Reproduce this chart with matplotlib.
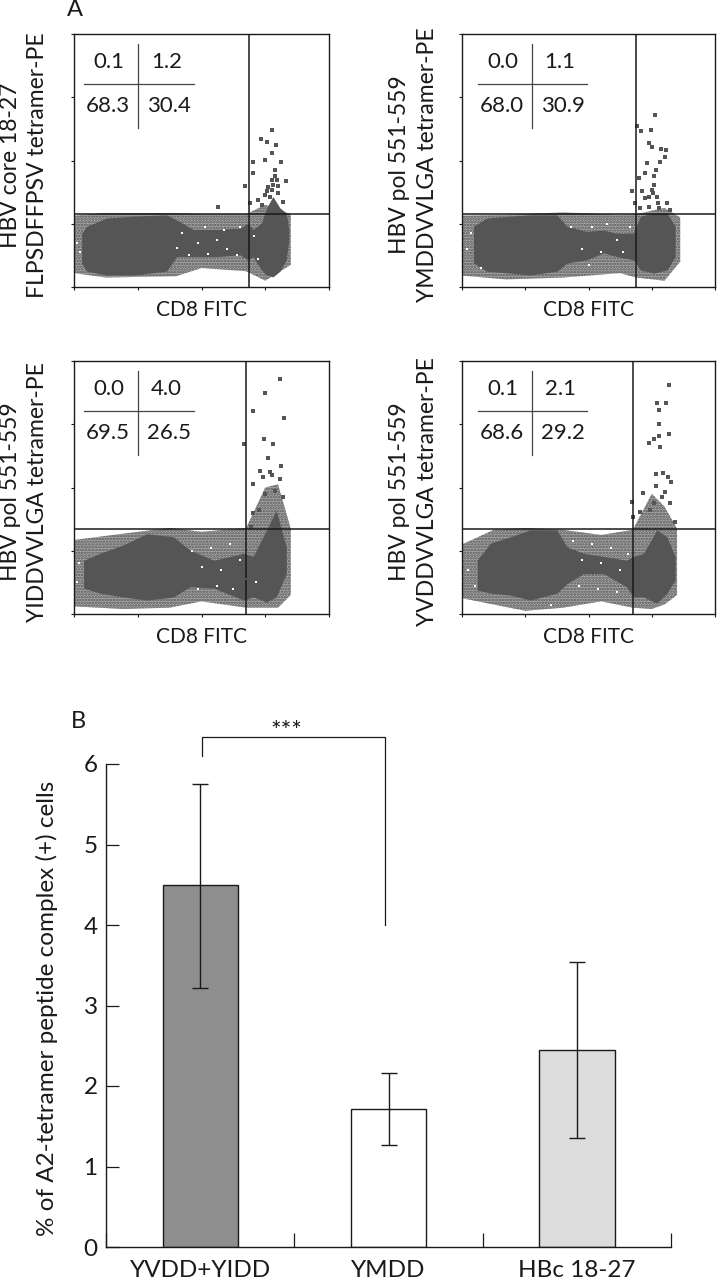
import matplotlib
matplotlib.use("Agg")
from matplotlib import pyplot as plt

plt.rcParams['font.family'] = ['Lato', 'DejaVu Sans']
plt.rcParams['hatch.linewidth'] = 1.2

W, H = 718, 1280
DOT = '#555555'
INK = '#1a1a1a'

# flow panels, all in decades (0-4) on both axes
p1_x = [0.12, 0.20, 0.51, 0.93, 1.45, 1.61, 1.87, 2.23, 2.60, 2.73, 2.81, 2.94, 3.02, 3.12, 3.23, 3.33, 3.37]
p1_top = [0.85, 0.96, 1.09, 1.12, 1.14, 1.06, 0.91, 0.91, 0.93, 1.01, 0.91, 1.01, 1.25, 1.43, 1.25, 1.17, 0.91]
p1_bot = [0.38, 0.25, 0.19, 0.19, 0.25, 0.48, 0.48, 0.48, 0.51, 0.43, 0.48, 0.27, 0.19, 0.16, 0.25, 0.43, 0.75]
p1_fx = [0.0, 0.5, 1.6, 2.0, 2.7, 3.0, 3.4]
p1_ft = [1.13, 1.17, 1.17, 1.15, 1.15, 1.30, 1.15]
p1_fb = [0.22, 0.15, 0.17, 0.30, 0.25, 0.10, 0.35]
p1_tx = [3.10, 2.93, 3.02, 3.17, 3.11, 2.81, 3.00, 3.24, 2.80, 3.15, 3.10, 3.18, 3.33, 2.69, 3.02, 3.10, 3.20, 2.76, 2.26, 2.89, 3.28, 3.05, 3.12, 3.20, 3.00, 2.95, 3.07, 3.15]
p1_ty = [2.48, 2.34, 2.30, 2.25, 2.12, 1.98, 2.01, 1.98, 1.80, 1.85, 1.69, 1.69, 1.67, 1.60, 1.51, 1.54, 1.48, 1.33, 1.27, 1.38, 1.35, 1.58, 1.62, 1.60, 1.45, 1.30, 1.42, 1.75]
p1_hx = [1.62, 1.80, 1.95, 2.10, 2.25, 2.40, 2.55, 1.70, 2.05, 2.35, 2.60, 2.83, 2.88, 0.05, 0.10]
p1_hy = [0.62, 0.50, 0.70, 0.52, 0.75, 0.60, 0.50, 0.85, 0.95, 0.90, 0.95, 0.80, 0.45, 0.70, 0.55]

p2_x = [0.18, 0.39, 0.76, 1.08, 1.50, 1.66, 1.97, 2.24, 2.45, 2.71, 2.82, 3.03, 3.24, 3.37]
p2_top = [0.96, 1.09, 1.12, 1.14, 1.14, 0.96, 0.88, 0.90, 0.85, 0.85, 1.12, 1.17, 1.17, 0.96]
p2_bot = [0.38, 0.25, 0.22, 0.19, 0.25, 0.38, 0.43, 0.54, 0.48, 0.43, 0.27, 0.22, 0.27, 0.48]
p2_fx = [0.0, 0.7, 1.6, 2.5, 2.75, 3.2, 3.45]
p2_ft = [1.13, 1.14, 1.18, 1.14, 1.15, 1.25, 1.10]
p2_fb = [0.18, 0.12, 0.15, 0.22, 0.15, 0.10, 0.40]
p2_tx = [3.05, 2.76, 2.99, 2.83, 2.95, 3.00, 3.15, 3.23, 3.21, 2.92, 3.13, 2.89, 3.03, 2.80, 3.03, 2.68, 2.84, 3.00, 3.08, 2.74, 2.89, 3.10, 3.24, 2.95, 2.82, 3.29, 3.06, 2.95, 3.02, 3.12]
p2_ty = [2.72, 2.55, 2.49, 2.46, 2.28, 2.22, 2.18, 2.17, 2.06, 1.96, 1.98, 1.80, 1.75, 1.72, 1.62, 1.52, 1.51, 1.54, 1.43, 1.33, 1.41, 1.33, 1.33, 1.27, 1.25, 1.22, 1.85, 1.42, 1.48, 1.25]
p2_hx = [1.72, 1.90, 2.05, 2.20, 2.30, 2.45, 2.55, 2.65, 0.08, 0.15, 0.30, 2.00]
p2_hy = [0.95, 0.60, 0.95, 0.55, 1.00, 0.75, 0.55, 0.95, 0.60, 0.85, 0.30, 0.35]

p3_x = [0.15, 0.41, 0.77, 1.14, 1.56, 1.82, 2.19, 2.66, 2.81, 3.02, 3.17, 3.33]
p3_top = [0.85, 0.96, 1.09, 1.27, 1.22, 1.01, 0.85, 0.96, 0.91, 1.33, 1.64, 1.06]
p3_bot = [0.41, 0.33, 0.27, 0.22, 0.27, 0.43, 0.41, 0.22, 0.27, 0.19, 0.27, 0.64]
p3_fx = [0.0, 0.77, 1.5, 2.0, 2.7, 3.0, 3.2, 3.4]
p3_ft = [1.17, 1.27, 1.36, 1.30, 1.36, 2.00, 2.05, 1.35]
p3_fb = [0.12, 0.08, 0.10, 0.20, 0.10, 0.10, 0.10, 0.30]
p3_tx = [3.23, 3.00, 2.80, 3.29, 2.67, 2.98, 3.12, 3.04, 2.91, 3.07, 3.10, 3.25, 2.81, 2.97, 3.23, 2.81, 2.78, 3.00, 3.15, 2.90, 3.28]
p3_ty = [3.71, 3.49, 3.21, 3.10, 2.68, 2.76, 2.68, 2.47, 2.26, 2.25, 2.19, 2.34, 2.06, 2.17, 2.14, 1.59, 1.38, 1.90, 1.95, 1.65, 1.85]
p3_hx = [1.85, 2.00, 2.15, 2.30, 2.45, 2.60, 2.70, 1.95, 2.25, 2.50, 2.85, 0.08, 0.05]
p3_hy = [1.00, 0.75, 1.05, 0.70, 1.10, 0.85, 0.55, 0.40, 0.45, 0.40, 0.50, 0.80, 0.50]

p4_x = [0.24, 0.45, 0.76, 1.08, 1.50, 1.66, 1.92, 2.24, 2.60, 2.71, 2.87, 3.08, 3.24, 3.37]
p4_top = [0.85, 1.12, 1.22, 1.33, 1.33, 1.06, 0.96, 0.91, 0.85, 0.91, 0.96, 1.33, 1.22, 0.91]
p4_bot = [0.38, 0.33, 0.30, 0.22, 0.33, 0.48, 0.64, 0.64, 0.43, 0.27, 0.27, 0.17, 0.33, 0.54]
p4_fx = [0.0, 0.5, 1.0, 1.6, 2.2, 2.7, 3.0, 3.2, 3.4]
p4_ft = [1.10, 1.33, 1.36, 1.33, 1.25, 1.33, 1.90, 1.70, 1.35]
p4_fb = [0.25, 0.15, 0.05, 0.10, 0.20, 0.10, 0.08, 0.15, 0.30]
p4_tx = [3.28, 3.09, 3.23, 3.11, 3.11, 3.28, 3.11, 3.03, 2.95, 3.13, 3.06, 3.18, 3.26, 3.31, 3.07, 2.86, 3.21, 3.16, 2.68, 3.03, 3.29, 2.82, 2.97, 3.37, 2.71]
p4_ty = [3.62, 3.34, 3.33, 3.22, 3.00, 2.84, 2.81, 2.76, 2.71, 2.64, 2.21, 2.23, 2.17, 2.09, 2.02, 1.92, 1.93, 1.85, 1.77, 1.75, 1.75, 1.62, 1.64, 1.46, 1.54]
p4_hx = [1.75, 1.90, 2.05, 2.20, 2.35, 2.50, 2.62, 1.85, 2.15, 2.45, 0.10, 0.20, 1.40]
p4_hy = [1.15, 0.85, 1.10, 0.80, 1.05, 0.70, 0.95, 0.45, 0.40, 0.35, 0.70, 0.45, 0.15]

# quadrant percentages: UL, UR, LL, LR
p1_pct = ['0.1', '1.2', '68.3', '30.4']
p2_pct = ['0.0', '1.1', '68.0', '30.9']
p3_pct = ['0.0', '4.0', '69.5', '26.5']
p4_pct = ['0.1', '2.1', '68.6', '29.2']

p1_label = ['HBV core 18-27', 'FLPSDFFPSV tetramer-PE']
p2_label = ['HBV pol 551-559', 'YMDDVVLGA tetramer-PE']
p3_label = ['HBV pol 551-559', 'YIDDVVLGA tetramer-PE']
p4_label = ['HBV pol 551-559', 'YVDDVVLGA tetramer-PE']

# bar chart
bar_names = ['YVDD+YIDD', 'YMDD', 'HBc 18-27']
bar_means = [4.50, 1.71, 2.45]
bar_low = [3.22, 1.27, 1.36]
bar_high = [5.75, 2.16, 3.54]
bar_colors = ['#8e8e8e', '#ffffff', '#dcdcdc']

fig = plt.figure(figsize=(W / 100, H / 100), dpi=100)


def px_axes(left, top, right, bottom):
    return fig.add_axes([left / W, 1 - bottom / H, (right - left) / W, (bottom - top) / H])


def flow_panel(box, gx, gy, cross_x, x, top, bot, fx, ft, fb, tx, ty, hx, hy, pct, label, label_x):
    ax = px_axes(*box)
    ax.fill_between(fx, fb, ft, facecolor='#a8a8a8', edgecolor=DOT, hatch='......', linewidth=0)
    ax.fill_between(x, bot, top, color=DOT, linewidth=0)
    ax.scatter(hx, hy, s=4, marker='s', color='white', linewidths=0)
    ax.scatter(tx, ty, s=6, marker='s', color=DOT, linewidths=0)
    ax.axvline(gx, color=INK, lw=1.1)
    ax.axhline(gy, color=INK, lw=1.1)
    ax.set_xlim(0, 4)
    ax.set_ylim(0, 4)
    ax.set_xticks([0, 1, 2, 3, 4])
    ax.set_yticks([0, 1, 2, 3, 4])
    ax.tick_params(length=2, width=0.8, labelbottom=False, labelleft=False, color=INK)
    for s in ax.spines.values():
        s.set_linewidth(1.0)
        s.set_color(INK)
    # little cross with the percentages
    ax.plot([cross_x, cross_x], [2.52, 3.84], color='#444444', lw=0.9)
    ax.plot([cross_x - 0.85, cross_x + 0.87], [3.21, 3.21], color='#444444', lw=0.9)
    for (px, py), s in zip([(cross_x - 0.47, 3.55), (cross_x + 0.44, 3.55),
                            (cross_x - 0.48, 2.86), (cross_x + 0.48, 2.86)], pct):
        ax.text(px, py, s, ha='center', va='center', fontsize=16, color=INK)
    ax.text(2, -0.36, 'CD8 FITC', ha='center', va='center', fontsize=15, color=INK)
    yc = (box[1] + box[3]) / 2 + 4.5
    fig.text(label_x[0] / W, 1 - yc / H, label[0], rotation=90, ha='center', va='center', fontsize=16.5, color=INK)
    fig.text(label_x[1] / W, 1 - yc / H, label[1], rotation=90, ha='center', va='center', fontsize=16.5, color=INK)


flow_panel((74, 34, 329, 287), 2.75, 1.16, 1.01, p1_x, p1_top, p1_bot, p1_fx, p1_ft, p1_fb, p1_tx, p1_ty, p1_hx, p1_hy, p1_pct, p1_label, (11, 38))
flow_panel((462, 34, 715, 287), 2.75, 1.16, 1.11, p2_x, p2_top, p2_bot, p2_fx, p2_ft, p2_fb, p2_tx, p2_ty, p2_hx, p2_hy, p2_pct, p2_label, (400, 428))
flow_panel((74, 361, 329, 614), 2.70, 1.35, 1.01, p3_x, p3_top, p3_bot, p3_fx, p3_ft, p3_fb, p3_tx, p3_ty, p3_hx, p3_hy, p3_pct, p3_label, (11, 38))
flow_panel((462, 361, 715, 614), 2.70, 1.35, 1.11, p4_x, p4_top, p4_bot, p4_fx, p4_ft, p4_fb, p4_tx, p4_ty, p4_hx, p4_hy, p4_pct, p4_label, (400, 428))

fig.text(67 / W, 1 - 10 / H, 'A', ha='left', va='center', fontsize=17, color=INK)
fig.text(71 / W, 1 - 722 / H, 'B', ha='left', va='center', fontsize=17, color=INK)

ax = px_axes(106, 764, 671, 1247)
pos = range(len(bar_names))
ax.bar(pos, bar_means, width=0.4, color=bar_colors, edgecolor=INK, linewidth=1.0)
err = [[m - l for m, l in zip(bar_means, bar_low)], [h - m for m, h in zip(bar_means, bar_high)]]
ax.errorbar(pos, bar_means, yerr=err, fmt='none', ecolor=INK, elinewidth=1.0, capsize=5.5, capthick=1.0)
ax.set_xlim(-0.5, 2.5)
ax.set_ylim(0, 6)
ax.set_yticks([0, 1, 2, 3, 4, 5, 6])
ax.set_xticks([-0.5, 0.5, 1.5, 2.5])
ax.set_xticklabels([])
ax.tick_params(axis='x', direction='in', length=10, width=0.9, color=INK)
ax.tick_params(axis='y', direction='in', length=9, width=0.9, color=INK, labelsize=17.5, labelcolor=INK, pad=6)
for side in ['top', 'right']:
    ax.spines[side].set_visible(False)
for side in ['left', 'bottom']:
    ax.spines[side].set_linewidth(1.0)
    ax.spines[side].set_color(INK)
for p, name in zip(pos, bar_names):
    ax.text(p, -0.29, name, ha='center', va='center', fontsize=17.5, color=INK)
fig.text(47 / W, 1 - 1008 / H, '% of A2-tetramer peptide complex (+) cells', rotation=90,
         ha='center', va='center', fontsize=17.5, color=INK)

# significance bracket
ax.plot([0.01, 0.01, 0.98, 0.98], [6.1, 6.33, 6.33, 4.0], color=INK, lw=0.9, clip_on=False)
ax.text(0.46, 6.40, '***', ha='center', va='center', fontsize=18, color=INK, clip_on=False)

fig.savefig('out.png', dpi=100)
